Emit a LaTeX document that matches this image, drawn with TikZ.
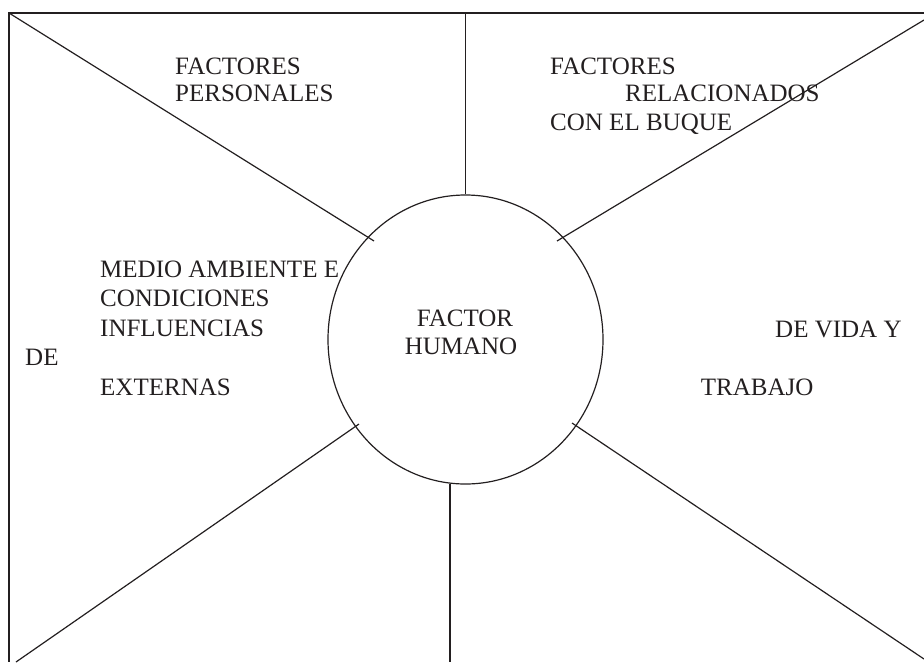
\documentclass[tikz,border=0pt]{standalone}
\usepackage{fontspec}
\setmainfont{Liberation Serif}
\usetikzlibrary{shapes.geometric}
\definecolor{ink}{HTML}{231F20}
\begin{document}
\begin{tikzpicture}[x=1pt,y=-1pt,
  lbl/.style={anchor=base west,inner sep=0pt,text=ink,font=\fontsize{25}{28}\selectfont},
  clbl/.style={anchor=base,inner sep=0pt,text=ink,font=\fontsize{25}{28}\selectfont},
  frameline/.style={draw=ink,line width=1.5pt},
  spoke/.style={draw=ink,line width=1.2pt}]
\useasboundingbox (0,0) rectangle (924,662);
% frame corners
\coordinate (tr) at (924,13);
\coordinate (tl) at (9,13);
\coordinate (bl) at (9,662);
\draw[frameline] (tr) -- (tl) -- (bl);
% central ellipse
\node[ellipse,draw=ink,line width=1.2pt,minimum width=275pt,minimum height=289pt,inner sep=0pt] (fh) at (465.5,339.5) {};
\node[clbl] (fh1) at (465,326.7) {FACTOR};
\node[clbl] (fh2) at (461,354) {HUMANO};
% spoke ends
\coordinate (topv) at (465.5,13);
\coordinate (botv) at (450,662);
\coordinate (bvtop) at (450,484);
\coordinate (tre) at (924,20);
\coordinate (ble) at (16,662);
\coordinate (bre) at (924,659);
\coordinate (s1) at (374,241);
\coordinate (s2) at (557,241);
\coordinate (s3) at (359,424);
\coordinate (s4) at (572,423);
\draw[spoke] (topv) -- (fh.north);
\draw[spoke] (bvtop) -- (botv);
\draw[spoke] (tl) -- (s1);
\draw[spoke] (tre) -- (s2);
\draw[spoke] (ble) -- (s3);
\draw[spoke] (bre) -- (s4);
% texts
\node[lbl] (p1) at (175,74) {FACTORES};
\node[lbl] (p2) at (175,101.7) {PERSONALES};
\node[lbl] (b1) at (550,74) {FACTORES};
\node[lbl] (b2) at (625,101.7) {RELACIONADOS};
\node[lbl] (b3) at (550,130.7) {CON EL BUQUE};
\node[lbl] (m1) at (100,277.7) {MEDIO AMBIENTE E};
\node[lbl] (m2) at (100,306.7) {CONDICIONES};
\node[lbl] (m3) at (100,336.7) {INFLUENCIAS};
\node[lbl] (m4) at (25,365) {DE};
\node[lbl] (m5) at (100,395) {EXTERNAS};
\node[lbl] (v1) at (775,337.3) {DE VIDA Y};
\node[lbl] (v2) at (700.7,395) {TRABAJO};
\end{tikzpicture}
\end{document}
